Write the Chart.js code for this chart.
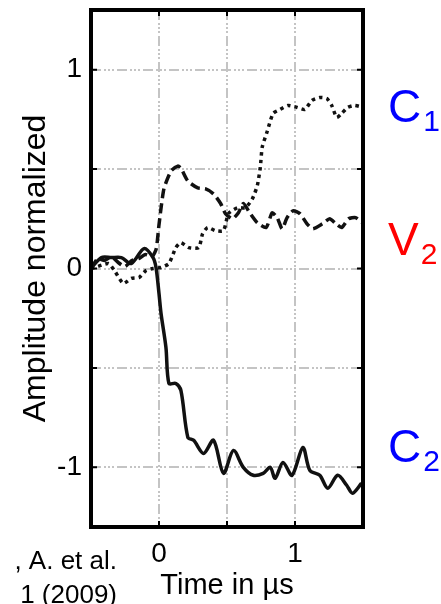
<!DOCTYPE html>
<html>
<head>
<meta charset="utf-8">
<script src="https://cdn.jsdelivr.net/npm/chart.js@4.4.1/dist/chart.umd.min.js"></script>
<style>
  html, body { margin: 0; padding: 0; background: #fff; }
  #wrap { width: 441px; height: 604px; }
</style>
</head>
<body>
<div id="wrap"><canvas id="chart" width="441" height="604"></canvas></div>
<script>
// C1 (dotted)
const timeC1 = [-0.5, -0.474, -0.372, -0.328, -0.263, -0.204, -0.146, -0.095, -0.044, 0.015, 0.073, 0.124, 0.161, 0.219, 0.292, 0.321, 0.358, 0.416, 0.474, 0.511, 0.577, 0.635, 0.686, 0.723, 0.745, 0.759, 0.796, 0.839, 0.891, 0.949, 1.015, 1.073, 1.124, 1.182, 1.234, 1.27, 1.307, 1.343, 1.387, 1.438, 1.5];
const ampC1 = [0.0, 0.005, 0.025, -0.01, -0.075, -0.05, -0.045, -0.01, 0.0, 0.005, 0.025, 0.105, 0.13, 0.105, 0.105, 0.176, 0.206, 0.19, 0.19, 0.276, 0.306, 0.306, 0.35, 0.417, 0.51, 0.61, 0.69, 0.78, 0.80, 0.82, 0.81, 0.80, 0.845, 0.86, 0.855, 0.82, 0.76, 0.78, 0.81, 0.82, 0.81];

// V2 (dashed)
const timeV2 = [-0.5, -0.45, -0.4, -0.35, -0.3, -0.25, -0.2, -0.15, -0.1, -0.05, -0.02, 0.0, 0.036, 0.088, 0.139, 0.161, 0.212, 0.285, 0.343, 0.401, 0.453, 0.489, 0.54, 0.584, 0.62, 0.671, 0.723, 0.788, 0.832, 0.869, 0.905, 0.942, 0.985, 1.036, 1.087, 1.131, 1.204, 1.255, 1.299, 1.343, 1.394, 1.445, 1.5];
const ampV2 = [0.0, 0.05, 0.04, 0.06, 0.03, 0.01, 0.04, 0.05, 0.07, 0.06, 0.1, 0.22, 0.40, 0.49, 0.515, 0.505, 0.44, 0.405, 0.40, 0.375, 0.327, 0.276, 0.25, 0.28, 0.327, 0.276, 0.23, 0.206, 0.28, 0.256, 0.20, 0.256, 0.29, 0.276, 0.226, 0.20, 0.226, 0.25, 0.226, 0.206, 0.25, 0.256, 0.226];

// C2 (solid)
const timeC2 = [-0.496, -0.423, -0.35, -0.277, -0.204, -0.11, -0.044, -0.022, 0.0, 0.015, 0.051, 0.073, 0.124, 0.161, 0.212, 0.255, 0.328, 0.401, 0.474, 0.547, 0.62, 0.693, 0.766, 0.818, 0.854, 0.912, 0.978, 1.058, 1.109, 1.182, 1.241, 1.314, 1.38, 1.423, 1.489];
const ampC2 = [0.005, 0.055, 0.055, 0.055, 0.025, 0.10, 0.055, 0.005, -0.126, -0.226, -0.397, -0.578, -0.578, -0.613, -0.849, -0.864, -0.93, -0.864, -1.03, -0.915, -1.0, -1.04, -1.03, -1.0, -1.055, -0.975, -1.04, -0.9, -1.015, -1.04, -1.105, -1.04, -1.09, -1.13, -1.08];

const xTicks = [0, 0.5, 1];
const xTickLabels = ['0', '', '1'];
const yTicks = [-1, -0.5, 0, 0.5, 1];
const yTickLabels = ['-1', '', '0', '', '1'];

const seriesNames = ['C', 'V', 'C'];
const seriesSubs = ['1', '2', '2'];
const seriesLabelY = [0.80, 0.13, -0.91];
const seriesLabelColors = ['#0000ff', '#ff0000', '#0000ff'];

const citation = [', A. et al.', '1 (2009)'];

function toPoints(xs, ys) {
    return xs.map((x, i) => ({ x: x, y: ys[i] }));
}

const gridDash = [10, 3, 2, 2, 2, 2, 2, 3];

// frame, inner tick marks, right-side labels and citation
const decorPlugin = {
    id: 'decor',
    afterDraw(chart) {
        const ctx = chart.ctx;
        const a = chart.chartArea;
        const xs = chart.scales.x;
        const ys = chart.scales.y;
        ctx.save();
        ctx.strokeStyle = '#000';
        ctx.lineWidth = 4;
        ctx.strokeRect(a.left, a.top, a.right - a.left, a.bottom - a.top);

        ctx.lineWidth = 2;
        ctx.beginPath();
        yTicks.forEach(v => {
            const py = ys.getPixelForValue(v);
            ctx.moveTo(a.left, py); ctx.lineTo(a.left + 6, py);
            ctx.moveTo(a.right, py); ctx.lineTo(a.right - 6, py);
        });
        xTicks.forEach(v => {
            const px = xs.getPixelForValue(v);
            ctx.moveTo(px, a.bottom); ctx.lineTo(px, a.bottom - 6);
            ctx.moveTo(px, a.top); ctx.lineTo(px, a.top + 6);
        });
        ctx.stroke();

        // series labels
        ctx.textBaseline = 'middle';
        ctx.textAlign = 'left';
        seriesNames.forEach((name, i) => {
            const py = ys.getPixelForValue(seriesLabelY[i]);
            ctx.fillStyle = seriesLabelColors[i];
            ctx.font = '46px "Liberation Sans", Arial, sans-serif';
            ctx.fillText(name, 388, py);
            const w = ctx.measureText(name).width;
            ctx.font = '30px "Liberation Sans", Arial, sans-serif';
            ctx.fillText(seriesSubs[i], 388 + w + 2, py + 13);
        });

        // citation (cut off at the left edge)
        ctx.fillStyle = '#000';
        ctx.textAlign = 'right';
        ctx.textBaseline = 'alphabetic';
        ctx.font = '26px "Liberation Sans", Arial, sans-serif';
        ctx.fillText(citation[0], 117, 569);
        ctx.fillText(citation[1], 117, 603);
        ctx.restore();
    }
};

new Chart(document.getElementById('chart'), {
    type: 'line',
    data: {
        datasets: [
            {
                label: 'C1',
                data: toPoints(timeC1, ampC1),
                borderColor: '#111',
                borderWidth: 3.5,
                borderDash: [3.5, 4],
                pointRadius: 0,
                tension: 0.2,
                fill: false
            },
            {
                label: 'V2',
                data: toPoints(timeV2, ampV2),
                borderColor: '#111',
                borderWidth: 3.5,
                borderDash: [10, 5],
                pointRadius: 0,
                tension: 0.2,
                fill: false
            },
            {
                label: 'C2',
                data: toPoints(timeC2, ampC2),
                borderColor: '#111',
                borderWidth: 3.5,
                pointRadius: 0,
                tension: 0.3,
                fill: false
            }
        ]
    },
    options: {
        responsive: false,
        animation: false,
        layout: { padding: { top: 10, right: 78, left: 0, bottom: 0 } },
        plugins: { legend: { display: false }, tooltip: { enabled: false } },
        scales: {
            x: {
                type: 'linear',
                min: -0.5,
                max: 1.5,
                afterBuildTicks: s => { s.ticks = xTicks.map(v => ({ value: v })); },
                afterFit: s => { s.height = 77; s.paddingLeft = 0; s.paddingRight = 0; },
                grid: { color: '#c4c4c4', lineWidth: 2, drawTicks: false },
                border: { display: false, dash: gridDash },
                ticks: {
                    padding: 10,
                    color: '#000',
                    autoSkip: false,
                    maxRotation: 0,
                    font: { family: '"Liberation Sans", Arial, sans-serif', size: 28 },
                    callback: (v, i) => xTickLabels[i]
                },
                title: {
                    display: true,
                    text: 'Time in µs',
                    color: '#000',
                    font: { family: '"Liberation Sans", Arial, sans-serif', size: 29, lineHeight: 1 },
                    padding: { top: 0, bottom: 4 }
                }
            },
            y: {
                min: -1.3,
                max: 1.3,
                afterBuildTicks: s => { s.ticks = yTicks.map(v => ({ value: v })); },
                afterFit: s => { s.width = 91; s.paddingTop = 0; s.paddingBottom = 0; },
                grid: { color: '#c4c4c4', lineWidth: 2, drawTicks: false },
                border: { display: false, dash: gridDash },
                ticks: {
                    padding: 9,
                    color: '#000',
                    autoSkip: false,
                    font: { family: '"Liberation Sans", Arial, sans-serif', size: 28 },
                    callback: (v, i) => yTickLabels[i]
                },
                title: {
                    display: true,
                    text: 'Amplitude normalized',
                    color: '#000',
                    font: { family: '"Liberation Sans", Arial, sans-serif', size: 32, lineHeight: 1 },
                    padding: { top: 20, bottom: 0 }
                }
            }
        }
    },
    plugins: [decorPlugin]
});
</script>
</body>
</html>
